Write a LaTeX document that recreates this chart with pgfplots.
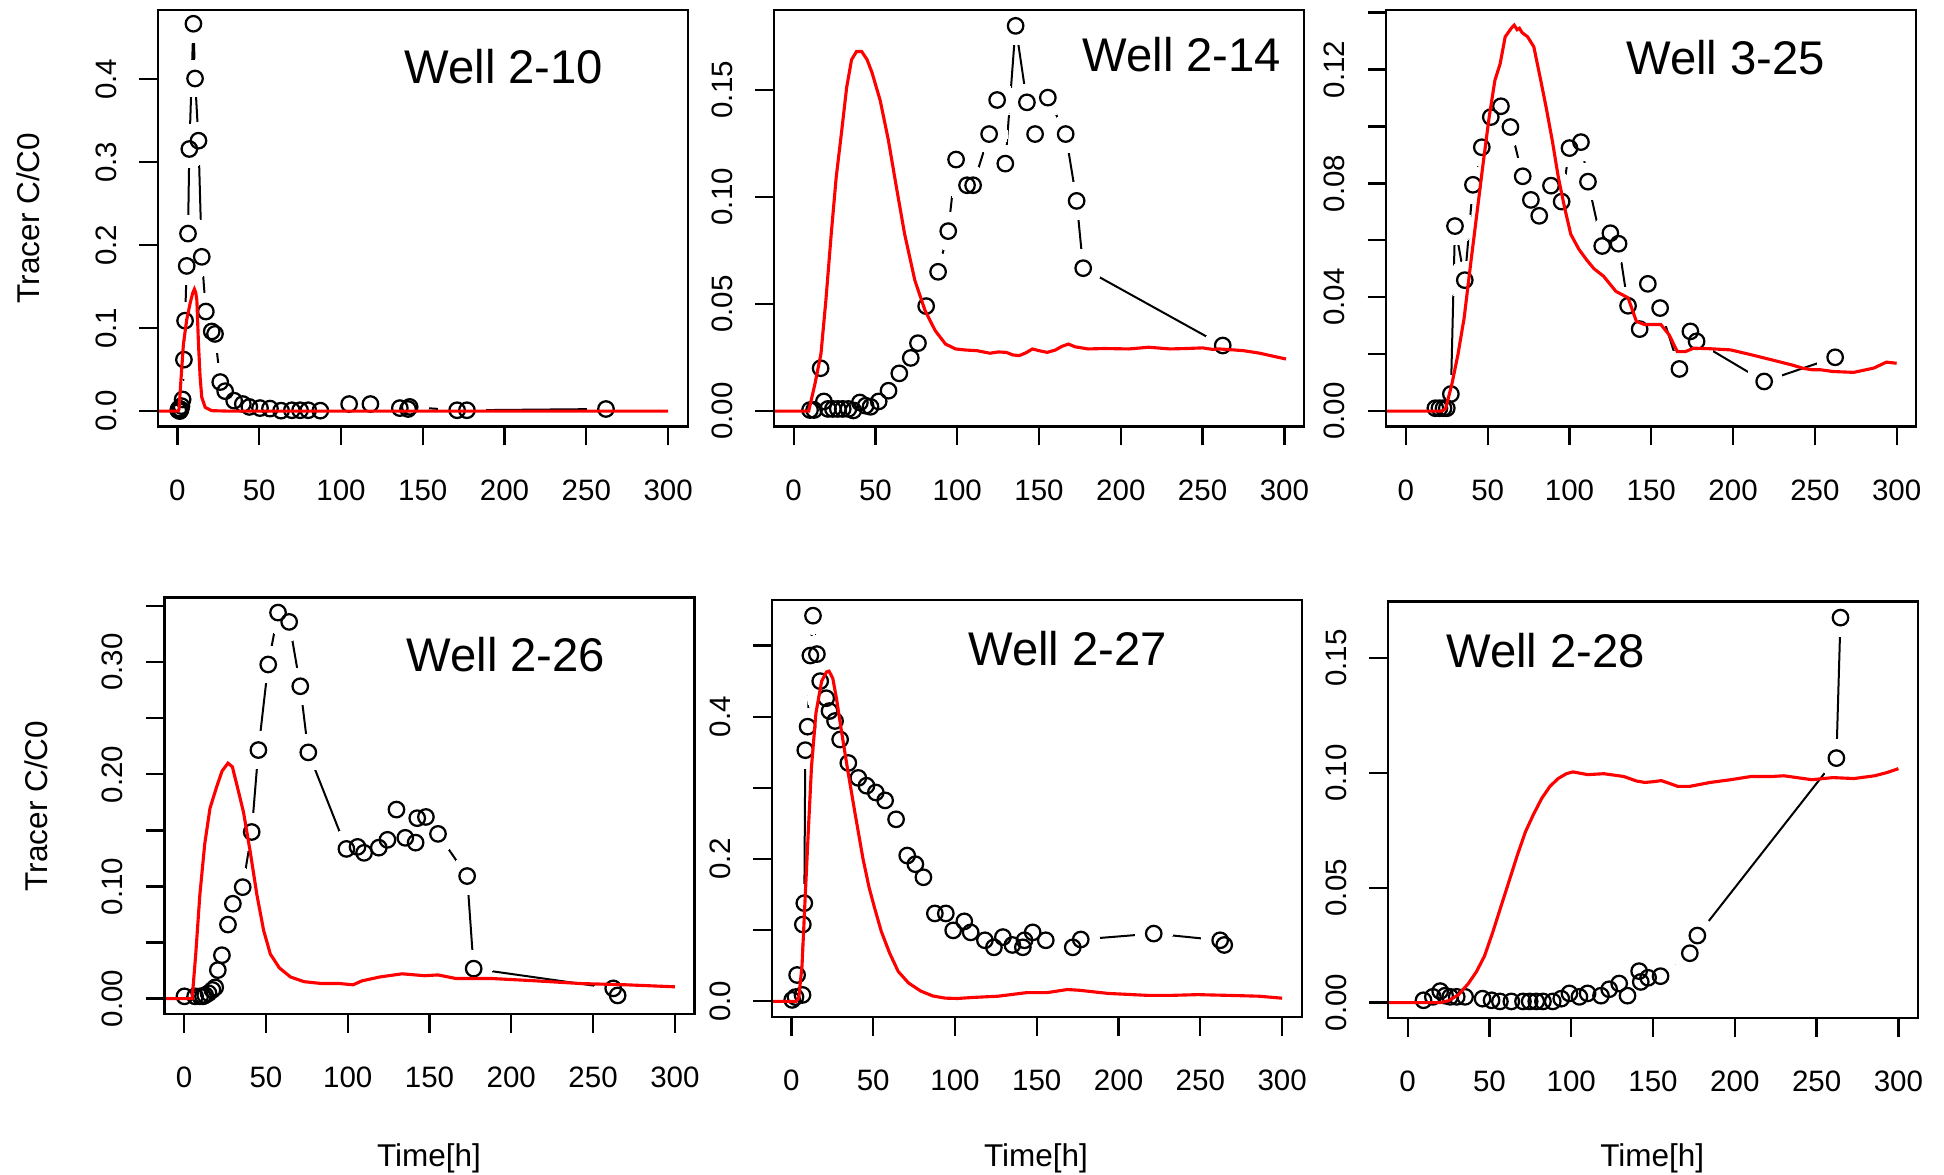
\documentclass[border=0pt]{standalone}
\usepackage{fontspec}
\setmainfont{Liberation Sans}
\usepackage{pgfplots}
\usepackage{pgfplotstable}
\pgfplotsset{compat=1.18}

% ---------- observed data (black circles) and model (red) ----------
\pgfplotstableread{
t c
0.5 0.001
1 0.003
1.5 0.000
2 0.002
2.5 0.006
3.2 0.014
4 0.062
4.7 0.109
5.7 0.175
6.5 0.214
7.3 0.316
9.8 0.467
10.8 0.401
12.9 0.326
14.9 0.186
17.4 0.120
21 0.096
23 0.093
26.2 0.035
29.2 0.024
34.7 0.0125
40 0.0085
44 0.005
50.5 0.0036
56.6 0.003
63.4 0.0005
70 0.001
75 0.001
80 0.001
87.4 0.0005
105 0.0085
118 0.0085
136 0.0036
141 0.0025
142 0.005
171 0.001
177 0.001
262 0.0025
}\obsA
\pgfplotstableread{
t c
-12 0
0.5 0
1.0 0.0025
2.3 0.041
3.7 0.081
5.7 0.110
7.8 0.130
9.3 0.142
10.4 0.147
11.2 0.143
11.9 0.134
12.9 0.081
13.9 0.041
14.9 0.0167
17 0.0045
21 0.0005
30 0
300 0
}\modA

\pgfplotstableread{
t c
10 0.0005
12.5 0.0005
16.5 0.020
18.5 0.0045
21 0.001
24 0.001
27 0.001
30 0.001
33.5 0.001
36.5 0.0003
40.5 0.004
44 0.0025
47 0.002
52 0.0045
58 0.0095
64.6 0.0176
71.6 0.0248
76 0.0317
81 0.049
88.3 0.065
94.5 0.084
99.3 0.1174
106 0.1054
109.7 0.1054
119.5 0.1293
124.4 0.1452
129.4 0.1155
135.7 0.1798
142.6 0.1441
147.6 0.1293
155.4 0.1463
166.3 0.1293
173 0.0981
177 0.0667
262.3 0.0306
}\obsB
\pgfplotstableread{
t c
-12 0
9.2 0
13 0.0126
16.7 0.0267
19.7 0.0516
23 0.0828
26 0.109
29.2 0.1296
32.4 0.151
35.4 0.164
38.4 0.1678
41.6 0.1678
44.9 0.164
47.9 0.158
52.9 0.145
57.9 0.1265
62.8 0.1046
67.8 0.0828
74.1 0.061
80.3 0.047
86.5 0.0376
92.8 0.0313
99 0.029
105 0.0285
112 0.0282
120 0.027
125 0.0276
130 0.0274
134 0.0262
138 0.0259
142 0.0272
146 0.029
150 0.0282
155 0.0274
160 0.0285
164 0.0302
168 0.0313
172 0.0300
180 0.029
190 0.0292
205 0.029
217 0.0298
230 0.029
240 0.0292
250 0.0295
256 0.0288
260 0.029
268 0.0286
275 0.0282
285 0.027
292 0.0258
301 0.0243
}\modB

\pgfplotstableread{
t c
18 0.001
20.5 0.001
23 0.001
25 0.001
27.5 0.006
30 0.065
36 0.046
41 0.0795
46.4 0.0927
51.9 0.1033
58.1 0.1071
63.9 0.0998
71.4 0.0825
76.4 0.0742
81.5 0.0686
88.7 0.0792
95.2 0.0736
100 0.0924
107 0.0945
111.3 0.0806
120 0.058
125 0.0625
130 0.0588
135.8 0.037
142.9 0.0288
147.9 0.0447
155.4 0.0362
167.2 0.0148
173.9 0.028
177.7 0.0245
219 0.0104
262.4 0.0189
}\obsC
\pgfplotstableread{
t c
-12 0
22 0
24.3 0.0009
28 0.0092
31.8 0.0198
35.6 0.0327
39.3 0.0504
43.1 0.068
46.9 0.0856
50.9 0.1033
54.4 0.1162
57.6 0.122
60.7 0.1315
64.4 0.1345
66.2 0.1356
68 0.1340
69.4 0.1345
71 0.1330
74.4 0.1315
78.2 0.128
82 0.1174
85.7 0.1068
89.5 0.095
93.2 0.0821
97 0.0715
100.8 0.0621
105.8 0.0568
110.8 0.0529
115 0.050
120.8 0.0474
128.3 0.0421
135.8 0.0398
140.9 0.0315
145.9 0.0304
155.9 0.0304
160.9 0.0268
165.9 0.0209
170.9 0.0209
175.9 0.0221
186 0.0219
198.5 0.0215
211 0.0198
223.6 0.018
236 0.0162
243 0.0150
248.6 0.0145
253.6 0.0145
261 0.0139
273.7 0.0136
286 0.0151
293.7 0.0172
300 0.0168
}\modC

\pgfplotstableread{
t c
0.2 0.002
6.7 0.002
9.8 0.002
11.5 0.002
12.9 0.003
14.9 0.0048
17.3 0.0077
19 0.010
20.6 0.0254
23.1 0.0387
26.8 0.066
29.8 0.0846
35.8 0.0994
41.3 0.1486
45.4 0.2217
51.4 0.298
57.4 0.3443
64.2 0.336
71 0.2786
75.9 0.2196
99.2 0.1335
106 0.1353
110 0.130
119 0.1346
124.3 0.1416
129.8 0.1686
135.2 0.1434
141.5 0.1391
142.5 0.1609
147.8 0.162
155.2 0.1469
173 0.1093
177 0.0267
262.3 0.0091
265 0.0028
}\obsD
\pgfplotstableread{
t c
-12 0
4.9 0
7.1 0.0397
9.6 0.0924
12.6 0.138
15.8 0.1697
19.9 0.189
23.2 0.203
26.8 0.210
29.5 0.2067
32.8 0.1873
36.3 0.1662
40.4 0.131
44.5 0.0924
48.6 0.0608
52.7 0.0397
58.2 0.0274
65 0.0193
73.2 0.0151
84.2 0.0134
95.1 0.0134
103.3 0.0123
108.7 0.0158
119.7 0.0193
133.3 0.0221
147 0.0204
155.2 0.0211
166.1 0.0179
188 0.0179
215.3 0.0158
242.6 0.0134
270 0.0123
300 0.0105
}\modD

\pgfplotstableread{
t c
0.5 0.002
2.5 0.006
3.5 0.037
6.8 0.009
7.0 0.108
7.9 0.138
8.5 0.353
9.9 0.386
11.6 0.486
13.2 0.542
15.6 0.488
17.6 0.450
21.3 0.426
23.3 0.408
26.7 0.394
29.8 0.368
34.8 0.335
40.9 0.314
45.9 0.303
51.6 0.2935
57.3 0.2824
64 0.2558
70.8 0.2049
75.8 0.1927
80.7 0.1744
87.7 0.1235
94.4 0.1235
98.9 0.0997
105.7 0.1124
109.6 0.0969
118.3 0.0858
123.8 0.0759
129.3 0.0903
135.1 0.0792
141.5 0.0759
142.5 0.0858
147.5 0.0969
155.5 0.0858
172 0.0759
176.9 0.0869
221.5 0.0952
262.1 0.0858
264.6 0.0792
}\obsE
\pgfplotstableread{
t c
-12 0
3 0
4.5 0.005
6.5 0.05
8.3 0.14
10.3 0.237
12.3 0.33
15 0.405
18.5 0.45
21.5 0.463
23 0.464
25.3 0.454
27.6 0.425
30.6 0.38
34.5 0.324
39 0.263
43.8 0.2
47.5 0.16
51 0.13
55 0.098
60 0.068
65.3 0.042
71.5 0.026
79 0.0145
86.5 0.0075
94 0.0045
101.4 0.004
111.4 0.0055
126.3 0.0072
143.8 0.0122
156.2 0.0122
168.7 0.0166
176.2 0.0155
193.6 0.0111
218.5 0.0083
231 0.0083
248.4 0.0094
268.4 0.0083
285.8 0.0072
300 0.0044
}\modE

\pgfplotstableread{
t c
9.7 0.001
15.4 0.0025
19.9 0.005
22.9 0.003
26 0.0025
30 0.0025
35.1 0.0025
45.8 0.0017
51.3 0.001
56.4 0.0005
63.4 0.0005
70.5 0.0005
74.6 0.0005
78.6 0.0005
82.7 0.0005
88.7 0.0005
93.9 0.0017
98.9 0.004
105 0.0025
110 0.004
118.2 0.003
123.2 0.0058
129.3 0.0083
134.4 0.003
141.5 0.0137
142.5 0.009
147 0.0108
154.6 0.0115
172.5 0.0215
177.1 0.0292
262.1 0.1065
264.6 0.1677
}\obsF
\pgfplotstableread{
t c
-12 0
20 0
25 0.0008
31 0.0034
37 0.0082
42 0.0134
47 0.0203
52 0.0306
57 0.0418
62 0.0529
67 0.0641
72 0.0744
77 0.0821
82 0.089
87 0.0942
92 0.0976
97 0.0997
101 0.1005
110 0.0993
120 0.0997
132 0.0985
140 0.0965
145 0.0959
150 0.0962
155 0.0967
160 0.0955
165 0.0942
172.5 0.0942
185 0.0959
197.6 0.0971
210 0.0985
222.7 0.0985
230 0.0988
247 0.0971
260 0.098
272.9 0.0976
285.4 0.0988
293 0.1002
300 0.1019
}\modF

\newcommand{\tickfont}{\fontsize{11.8}{14}\selectfont}
\newcommand{\labfont}{\fontsize{12.6}{15}\selectfont}
\newcommand{\titfont}{\fontsize{18.9}{22}\selectfont}

\pgfplotsset{
  rpanel/.style={
    scale only axis, width=212pt, height=166.6pt,
    anchor=north west,
    xmin=-12, xmax=312,
    axis on top,
    clip marker paths=true,
    axis line style={line width=0.9pt, black},
    tick align=outside, tick pos=left,
    major tick length=7.5pt,
    major tick style={line width=0.9pt, black},
    minor tick num=0,
    xtick={0,50,100,150,200,250,300},
    xticklabels={0,50,100,150,200,250,300},
    tick label style={font=\tickfont},
    xticklabel style={inner sep=0pt, anchor=north},
    xticklabel shift=13.5pt,
    yticklabel style={rotate=90, anchor=south, inner sep=0pt},
    yticklabel shift=8.8pt,
  },
  obsline/.style={black, line width=0.8pt, mark=none},
  halo/.style={only marks, mark=*, mark size=7.4pt, mark options={draw=white, fill=white, line width=0pt}},
  circ/.style={only marks, mark=o, mark size=3.1pt, mark options={line width=0.9pt, draw=black}},
  model/.style={red, line width=1.25pt, mark=none},
}

\newcommand{\panel}[2]{%
  \addplot[obsline] table[x=t,y=c] {#1};
  \addplot[halo] table[x=t,y=c] {#1};
  \addplot[circ] table[x=t,y=c] {#1};
  \addplot[model] table[x=t,y=c] {#2};
}

\begin{document}
\begin{tikzpicture}
\useasboundingbox (0,0) rectangle (777.6pt,-470pt);

\begin{axis}[rpanel, at={(63.1pt,-4pt)},
  ymin=-0.0186, ymax=0.4836,
  ytick={0,0.1,0.2,0.3,0.4}, yticklabels={0.0,0.1,0.2,0.3,0.4}]
\panel{\obsA}{\modA}
\end{axis}

\begin{axis}[rpanel, at={(309.6pt,-4pt)},
  ymin=-0.0072, ymax=0.1872,
  ytick={0,0.05,0.10,0.15}, yticklabels={0.00,0.05,0.10,0.15}]
\panel{\obsB}{\modB}
\end{axis}

\begin{axis}[rpanel, at={(554.5pt,-4pt)},
  ymin=-0.00542, ymax=0.14092,
  ytick={0,0.02,0.04,0.06,0.08,0.10,0.12,0.14}, yticklabels={0.00,,0.04,,0.08,,0.12,}]
\panel{\obsC}{\modC}
\end{axis}

\begin{axis}[rpanel, at={(65.8pt,-239pt)},
  ymin=-0.01376, ymax=0.35776,
  ytick={0,0.05,0.10,0.15,0.20,0.25,0.30,0.35}, yticklabels={0.00,,0.10,,0.20,,0.30,}]
\panel{\obsD}{\modD}
\end{axis}

\begin{axis}[rpanel, at={(308.7pt,-240.1pt)},
  ymin=-0.02168, ymax=0.56368,
  ytick={0,0.1,0.2,0.3,0.4,0.5}, yticklabels={0.0,,0.2,,0.4,}]
\panel{\obsE}{\modE}
\end{axis}

\begin{axis}[rpanel, at={(555.2pt,-240.6pt)},
  ymin=-0.00672, ymax=0.17472,
  ytick={0,0.05,0.10,0.15}, yticklabels={0.00,0.05,0.10,0.15}]
\panel{\obsF}{\modF}
\end{axis}

% panel titles
\node[anchor=base west, inner sep=0pt, font=\titfont] at (161.6pt,-33.3pt) {Well 2-10};
\node[anchor=base west, inner sep=0pt, font=\titfont] at (432.8pt,-28.7pt) {Well 2-14};
\node[anchor=base west, inner sep=0pt, font=\titfont] at (650.3pt,-30pt) {Well 3-25};
\node[anchor=base west, inner sep=0pt, font=\titfont] at (162.4pt,-268.6pt) {Well 2-26};
\node[anchor=base west, inner sep=0pt, font=\titfont] at (387.1pt,-266.2pt) {Well 2-27};
\node[anchor=base west, inner sep=0pt, font=\titfont] at (578.3pt,-266.9pt) {Well 2-28};

% axis labels
\node[rotate=90, anchor=base, inner sep=0pt, font=\labfont] at (16pt,-87.2pt) {Tracer C/C0};
\node[rotate=90, anchor=base, inner sep=0pt, font=\labfont] at (18.8pt,-322.4pt) {Tracer C/C0};
\node[anchor=base, inner sep=0pt, font=\labfont] at (171.6pt,-466.4pt) {Time[h]};
\node[anchor=base, inner sep=0pt, font=\labfont] at (414.4pt,-466.4pt) {Time[h]};
\node[anchor=base, inner sep=0pt, font=\labfont] at (660.9pt,-466.4pt) {Time[h]};
\end{tikzpicture}
\end{document}
